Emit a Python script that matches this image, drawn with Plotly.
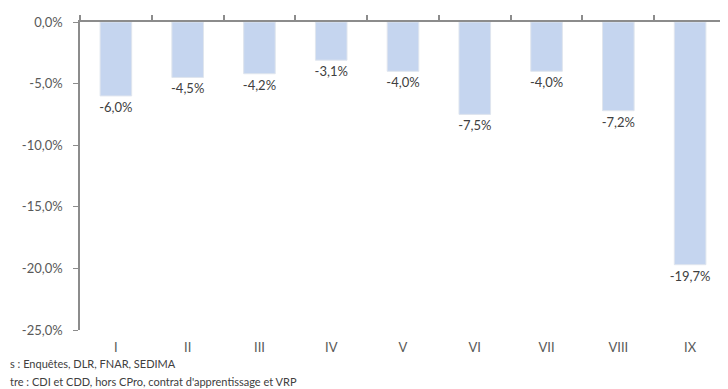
import plotly.graph_objects as go

categories = ['I', 'II', 'III', 'IV', 'V', 'VI', 'VII', 'VIII', 'IX']
values = [-6.0, -4.5, -4.2, -3.1, -4.0, -7.5, -4.0, -7.2, -19.7]
y_ticks = [0, -5, -10, -15, -20, -25]
source_lines = ['s : Enquêtes, DLR, FNAR, SEDIMA',
                "tre : CDI et CDD, hors CPro, contrat d'apprentissage et VRP"]

font_family = 'Lato, Open Sans, sans-serif'
labels = [f'{v:.1f}%'.replace('.', ',') for v in values]
cat_range = [-0.5, len(categories) - 0.5]

fig = go.Figure()
fig.add_trace(go.Bar(x=categories, y=values, text=labels, textposition='outside',
                     textfont=dict(size=13, color='#404040', family=font_family),
                     constraintext='none',
                     marker=dict(color='#c5d5ef', line=dict(color='#dfe5ee', width=1)),
                     width=0.44, cliponaxis=False, hoverinfo='skip'))
# invisible trace carrying the category labels at the bottom
fig.add_trace(go.Scatter(x=categories, y=values, xaxis='x2', mode='none',
                         hoverinfo='skip', showlegend=False))

fig.update_layout(
    width=728, height=389,
    margin=dict(l=72, r=10, t=14, b=67),
    paper_bgcolor='white', plot_bgcolor='white',
    separators=', ',
    showlegend=False,
    font=dict(family=font_family, size=12, color='#595959'),
    # zero line along the top with ticks between the categories
    xaxis=dict(type='category', side='top', showline=True, range=cat_range,
               linecolor='#8c8c8c', linewidth=1.5, ticks='outside', ticklen=5,
               tickcolor='#8c8c8c', tickwidth=1.5, tickson='boundaries',
               showticklabels=False, showgrid=False, automargin=False),
    xaxis2=dict(type='category', overlaying='x', side='bottom', anchor='y',
                range=cat_range, showline=False, ticks='', showgrid=False,
                automargin=False,
                tickfont=dict(size=13, color='#595959'), ticklabelstandoff=8),
    yaxis=dict(range=[-25, 0], tickvals=y_ticks,
               ticktext=[f'{t:.1f}%'.replace('.', ',') for t in y_ticks],
               showline=True, linecolor='#8c8c8c', linewidth=1.5,
               ticks='outside', ticklen=5, tickcolor='#8c8c8c',
               showgrid=False, zeroline=False, automargin=False,
               ticklabelstandoff=8,
               tickfont=dict(size=13, color='#595959')),
)

for i, line in enumerate(source_lines):
    fig.add_annotation(text=line, xref='paper', yref='paper', x=-72 / 646, y=0,
                       yshift=-33 - 18 * i, xanchor='left', yanchor='middle',
                       showarrow=False, font=dict(size=11, color='#404040'))

fig.write_html('out.html')
